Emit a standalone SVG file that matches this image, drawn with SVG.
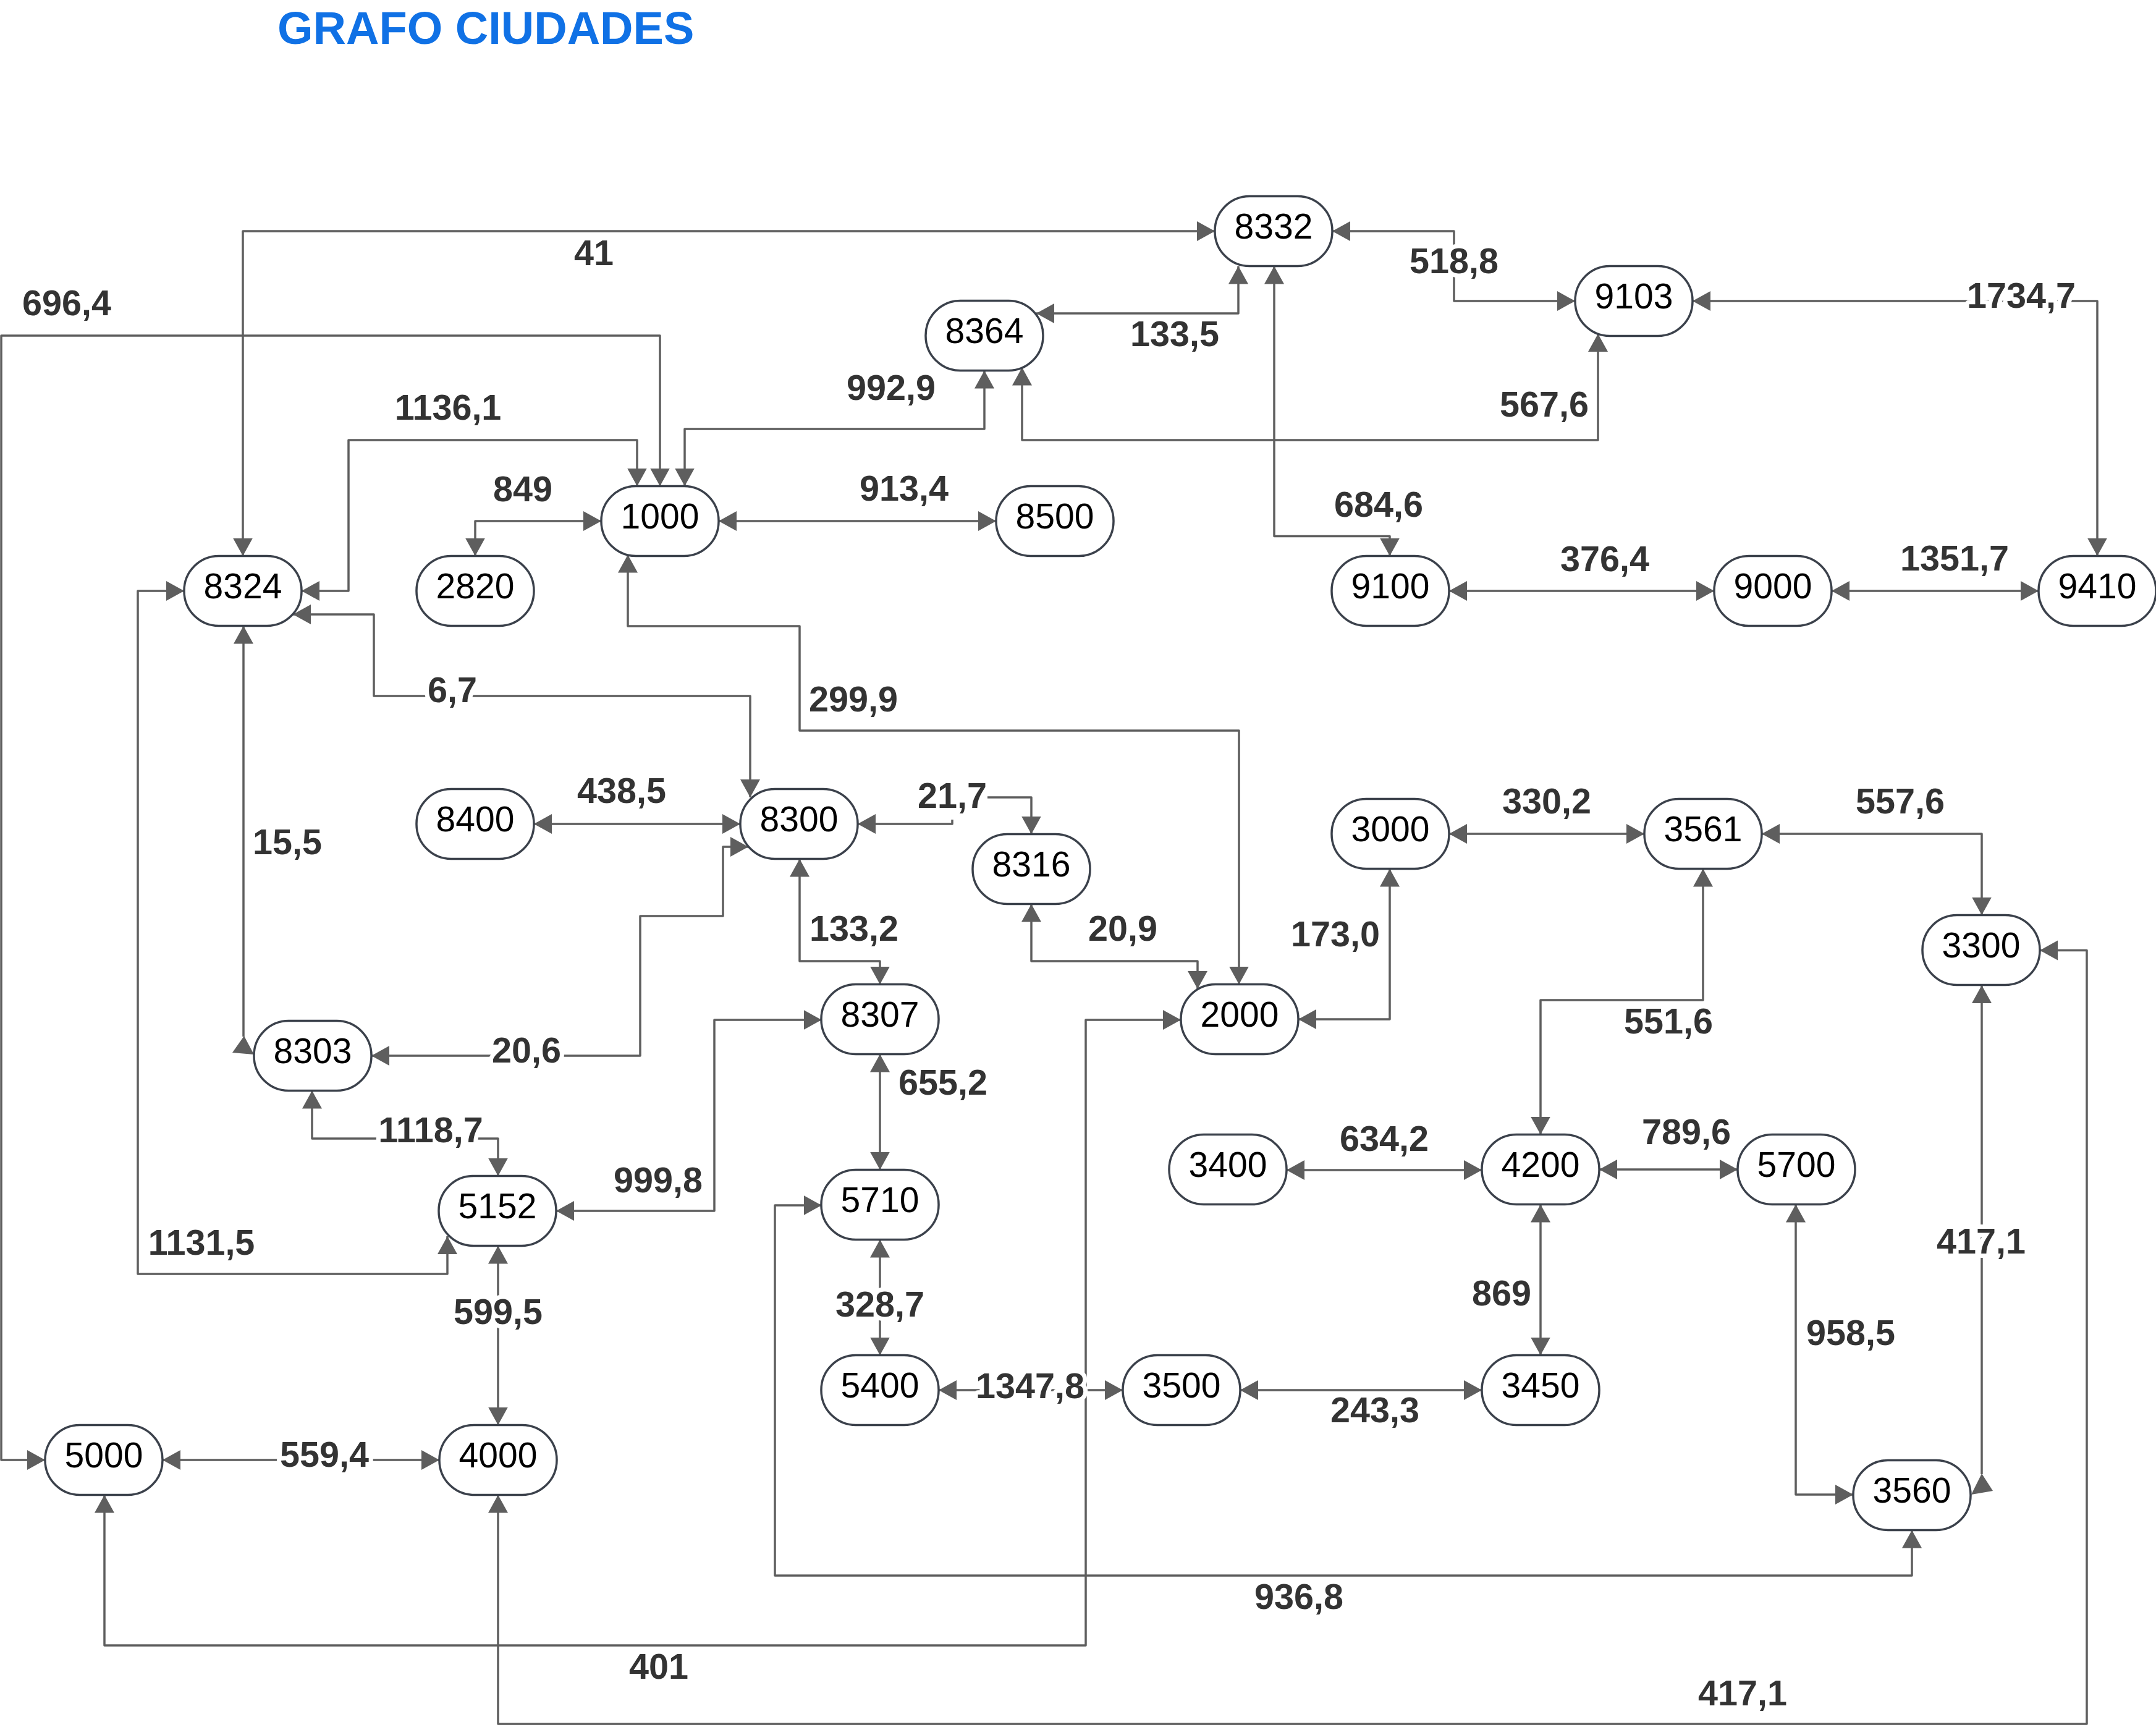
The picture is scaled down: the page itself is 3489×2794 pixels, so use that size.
<svg xmlns="http://www.w3.org/2000/svg" width="3489" height="2794" viewBox="0 0 3489 2794">
<style>
.bg{fill:#ffffff}
.title{font-family:"Liberation Sans",Arial,sans-serif;font-weight:bold;font-size:74px;fill:#1071e5}
.node rect{fill:#ffffff;stroke:#3b414b;stroke-width:3.5}
.node text{font-family:"Liberation Sans",Arial,sans-serif;font-size:57px;fill:#000000;text-anchor:middle}
.e{fill:none;stroke:#5e5e5e;stroke-width:3.5;stroke-linejoin:round;marker-start:url(#ah);marker-end:url(#ah)}
.e1{fill:none;stroke:#5e5e5e;stroke-width:3.5;stroke-linejoin:round;marker-start:url(#ah)}
.tri{fill:#5e5e5e}
.mask{fill:#ffffff}
.lbl{font-family:"Liberation Sans",Arial,sans-serif;font-weight:bold;font-size:57.5px;fill:#333333;text-anchor:middle;paint-order:stroke;stroke:#ffffff;stroke-width:14px;stroke-linejoin:round}
</style>
<defs>
<marker id="ah" markerUnits="userSpaceOnUse" markerWidth="30" markerHeight="34" refX="29" refY="16" orient="auto-start-reverse" viewBox="0 0 30 32">
<path d="M0,0 L29,16 L0,32 Z" fill="#5e5e5e"/>
</marker>
</defs>
<rect class="bg" x="0" y="0" width="3489" height="2794"/>
<text class="title" x="449" y="71">GRAFO CIUDADES</text>

<g id="connectors">
<path class="e" d="M393,899.5 V374 H1966"/>
<path class="e" d="M1068,786.5 V543 H2 V2362 H73"/>
<path class="e" d="M1031,786.5 V712 H564 V956 H488"/>
<path class="e" d="M973,843 H769 V899.5"/>
<path class="e" d="M1108,786.5 V694 H1593 V599.5"/>
<path class="e" d="M1163,843 H1612"/>
<path class="e" d="M1677,507 H2004 V430.5"/>
<path class="e" d="M2156,374 H2353 V487 H2549"/>
<path class="e" d="M2739,487 H3394 V899.5"/>
<path class="e" d="M2586,540 V712 H1654 V594.5"/>
<path class="e" d="M2062,430.5 V867.5 H2249 V899.5"/>
<path class="e" d="M2345,956 H2774"/>
<path class="e" d="M2964,956 H3299"/>
<path class="e" d="M474,994 H605 V1126 H1214 V1290"/>
<path class="e" d="M864,1333 H1198"/>
<path class="e" d="M1388,1333 H1541 V1290 H1669 V1349.5"/>
<path class="e1" d="M394,1012.5 V1677"/>
<polygon class="tri" points="395,1676 376,1703 411,1706"/>
<path class="e" d="M1211,1370 H1170 V1482 H1036 V1708 H601"/>
<path class="e" d="M1294,1389.5 V1555 H1424 V1592.5"/>
<path class="e" d="M1669,1462.5 V1555 H1938 V1600"/>
<path class="e" d="M1016,897.5 V1013 H1294 V1182 H2005 V1592.5"/>
<path class="e" d="M2101,1649 H2249 V1405.5"/>
<path class="e" d="M2345,1349 H2661"/>
<path class="e" d="M2851,1349 H3207 V1480.5"/>
<path class="e" d="M2756,1405.5 V1618 H2493 V1835.5"/>
<path class="e" d="M2082,1893 H2398"/>
<path class="e" d="M2588,1892 H2812"/>
<path class="e" d="M2493,1948.5 V2192.5"/>
<path class="e" d="M2007,2249 H2398"/>
<path class="e" d="M1519,2249 H1817"/>
<path class="e" d="M1424,2005.5 V2192.5"/>
<path class="e" d="M1424,1705.5 V1892.5"/>
<path class="e" d="M900,1959 H1156 V1650 H1329.5"/>
<path class="e" d="M505,1764.5 V1842 H806 V1902.5"/>
<path class="e" d="M298,956 H223 V2061 H724 V2000"/>
<path class="e" d="M806,2015.5 V2305.5"/>
<path class="e" d="M263,2362 H711"/>
<path class="e" d="M169,2418.5 V2662 H1757 V1650 H1911"/>
<path class="e" d="M3094,2475.5 V2549 H1254 V1950 H1329.5"/>
<path class="e" d="M2906,1948.5 V2418 H2999"/>
<path class="e1" d="M3207,1594 V2385"/>
<polygon class="tri" points="3207,2384 3190,2418 3225,2412"/>
<path class="e" d="M806,2418.5 V2789 H3377 V1537.5 H3301"/>

<rect class="mask" x="1484" y="1262" width="114" height="64"/>

<text class="lbl" x="961" y="429">41</text>
<text class="lbl" x="108" y="510">696,4</text>
<text class="lbl" x="725" y="679">1136,1</text>
<text class="lbl" x="846" y="811">849</text>
<text class="lbl" x="1442" y="647">992,9</text>
<text class="lbl" x="1463" y="810">913,4</text>
<text class="lbl" x="1901" y="560">133,5</text>
<text class="lbl" x="2353" y="442">518,8</text>
<text class="lbl" x="3271" y="498">1734,7</text>
<text class="lbl" x="2499" y="674">567,6</text>
<text class="lbl" x="2231" y="836">684,6</text>
<text class="lbl" x="2597" y="924">376,4</text>
<text class="lbl" x="3163" y="923">1351,7</text>
<text class="lbl" x="732" y="1136">6,7</text>
<text class="lbl" x="1006" y="1299">438,5</text>
<text class="lbl" x="1541" y="1307">21,7</text>
<text class="lbl" x="465" y="1382">15,5</text>
<text class="lbl" x="852" y="1719">20,6</text>
<text class="lbl" x="1382" y="1522">133,2</text>
<text class="lbl" x="1817" y="1522">20,9</text>
<text class="lbl" x="1381" y="1151">299,9</text>
<text class="lbl" x="2161" y="1531">173,0</text>
<text class="lbl" x="2503" y="1316">330,2</text>
<text class="lbl" x="3075" y="1316">557,6</text>
<text class="lbl" x="2700" y="1672">551,6</text>
<text class="lbl" x="2240" y="1862">634,2</text>
<text class="lbl" x="2729" y="1851">789,6</text>
<text class="lbl" x="2430" y="2112">869</text>
<text class="lbl" x="2225" y="2301">243,3</text>
<text class="lbl" x="1667" y="2262">1347,8</text>
<text class="lbl" x="1424" y="2130">328,7</text>
<text class="lbl" x="1526" y="1771">655,2</text>
<text class="lbl" x="1065" y="1929">999,8</text>
<text class="lbl" x="697" y="1848">1118,7</text>
<text class="lbl" x="326" y="2030">1131,5</text>
<text class="lbl" x="806" y="2142">599,5</text>
<text class="lbl" x="525" y="2373">559,4</text>
<text class="lbl" x="1066" y="2716">401</text>
<text class="lbl" x="2102" y="2603">936,8</text>
<text class="lbl" x="2995" y="2176">958,5</text>
<text class="lbl" x="3206" y="2028">417,1</text>
<text class="lbl" x="2820" y="2759">417,1</text>
</g>

<g id="n8332" class="node"><rect x="1966" y="317.5" width="190" height="113" rx="56"/><text x="2061" y="386">8332</text></g>
<g id="n8364" class="node"><rect x="1498" y="486.5" width="190" height="113" rx="56"/><text x="1593" y="555">8364</text></g>
<g id="n9103" class="node"><rect x="2549" y="430.5" width="190" height="113" rx="56"/><text x="2644" y="499">9103</text></g>
<g id="n1000" class="node"><rect x="973" y="786.5" width="190" height="113" rx="56"/><text x="1068" y="855">1000</text></g>
<g id="n8500" class="node"><rect x="1612" y="786.5" width="190" height="113" rx="56"/><text x="1707" y="855">8500</text></g>
<g id="n8324" class="node"><rect x="298" y="899.5" width="190" height="113" rx="56"/><text x="393" y="968">8324</text></g>
<g id="n2820" class="node"><rect x="674" y="899.5" width="190" height="113" rx="56"/><text x="769" y="968">2820</text></g>
<g id="n9100" class="node"><rect x="2155" y="899.5" width="190" height="113" rx="56"/><text x="2250" y="968">9100</text></g>
<g id="n9000" class="node"><rect x="2774" y="899.5" width="190" height="113" rx="56"/><text x="2869" y="968">9000</text></g>
<g id="n9410" class="node"><rect x="3299" y="899.5" width="190" height="113" rx="56"/><text x="3394" y="968">9410</text></g>
<g id="n8400" class="node"><rect x="674" y="1276.5" width="190" height="113" rx="56"/><text x="769" y="1345">8400</text></g>
<g id="n8300" class="node"><rect x="1198" y="1276.5" width="190" height="113" rx="56"/><text x="1293" y="1345">8300</text></g>
<g id="n8316" class="node"><rect x="1574" y="1349.5" width="190" height="113" rx="56"/><text x="1669" y="1418">8316</text></g>
<g id="n3000" class="node"><rect x="2155" y="1292.5" width="190" height="113" rx="56"/><text x="2250" y="1361">3000</text></g>
<g id="n3561" class="node"><rect x="2661" y="1292.5" width="190" height="113" rx="56"/><text x="2756" y="1361">3561</text></g>
<g id="n3300" class="node"><rect x="3111" y="1480.5" width="190" height="113" rx="56"/><text x="3206" y="1549">3300</text></g>
<g id="n8303" class="node"><rect x="411" y="1651.5" width="190" height="113" rx="56"/><text x="506" y="1720">8303</text></g>
<g id="n8307" class="node"><rect x="1329" y="1592.5" width="190" height="113" rx="56"/><text x="1424" y="1661">8307</text></g>
<g id="n2000" class="node"><rect x="1911" y="1592.5" width="190" height="113" rx="56"/><text x="2006" y="1661">2000</text></g>
<g id="n5152" class="node"><rect x="710" y="1902.5" width="190" height="113" rx="56"/><text x="805" y="1971">5152</text></g>
<g id="n5710" class="node"><rect x="1329" y="1892.5" width="190" height="113" rx="56"/><text x="1424" y="1961">5710</text></g>
<g id="n3400" class="node"><rect x="1892" y="1835.5" width="190" height="113" rx="56"/><text x="1987" y="1904">3400</text></g>
<g id="n4200" class="node"><rect x="2398" y="1835.5" width="190" height="113" rx="56"/><text x="2493" y="1904">4200</text></g>
<g id="n5700" class="node"><rect x="2812" y="1835.5" width="190" height="113" rx="56"/><text x="2907" y="1904">5700</text></g>
<g id="n5400" class="node"><rect x="1329" y="2192.5" width="190" height="113" rx="56"/><text x="1424" y="2261">5400</text></g>
<g id="n3500" class="node"><rect x="1817" y="2192.5" width="190" height="113" rx="56"/><text x="1912" y="2261">3500</text></g>
<g id="n3450" class="node"><rect x="2398" y="2192.5" width="190" height="113" rx="56"/><text x="2493" y="2261">3450</text></g>
<g id="n5000" class="node"><rect x="73" y="2305.5" width="190" height="113" rx="56"/><text x="168" y="2374">5000</text></g>
<g id="n4000" class="node"><rect x="711" y="2305.5" width="190" height="113" rx="56"/><text x="806" y="2374">4000</text></g>
<g id="n3560" class="node"><rect x="2999" y="2362.5" width="190" height="113" rx="56"/><text x="3094" y="2431">3560</text></g>
</svg>
